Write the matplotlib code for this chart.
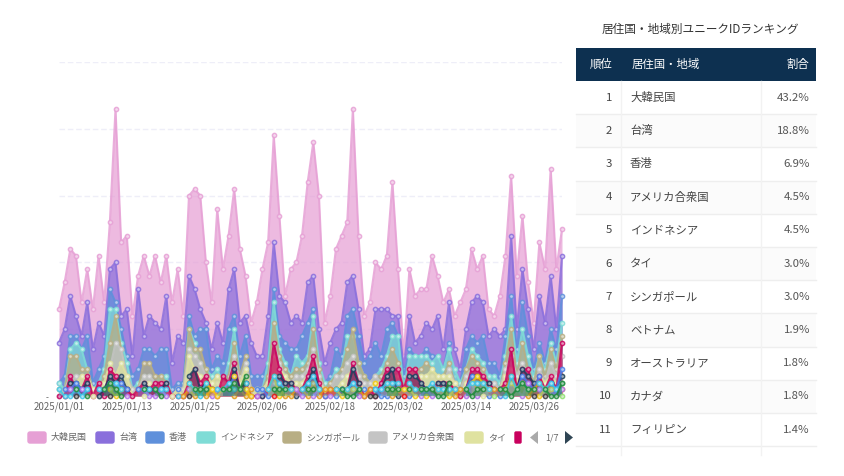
import numpy as np
import pandas as pd
import matplotlib
matplotlib.use("Agg")
import matplotlib.pyplot as plt
from matplotlib.colors import to_rgb
from matplotlib.patches import FancyBboxPatch, Rectangle, Polygon

plt.rcParams["font.family"] = ["Noto Sans CJK JP", "DejaVu Sans"]

_ = None
dates = pd.date_range("2025-01-01", periods=90).strftime("%Y/%m/%d")

korea = [13, 17, 22, 21, 14, 19, 13, 21, 14, 26, 43, 23, 24, 12, 18, 21, 18, 21, 17, 21, 14, 19, 12, 30, 31, 30, 20, 14, 28, 19,
         24, 31, 22, 18, 11, 14, 19, 23, 39, 27, 15, 19, 20, 24, 32, 38, 30, 11, 15, 22, 24, 26, 43, 24, 12, 14, 20, 19, 21, 32,
         19, 6, 19, 15, 16, 16, 21, 18, 14, 16, 12, 14, 16, 22, 19, 21, 13, 12, 15, 21, 33, 18, 27, 17, 11, 23, 19, 34, 19, 25]
taiwan = [8, 10, 15, 12, 9, 14, 7, 11, 9, 19, 20, 12, 13, 6, 16, 9, 12, 11, 10, 15, 5, 9, 8, 18, 16, 13, 11, 7, 11, 8,
          16, 19, 11, 12, 8, 6, 6, 12, 23, 15, 14, 11, 12, 11, 17, 18, 10, 5, 8, 10, 11, 17, 18, 13, 6, 7, 13, 13, 13, 12,
          12, 4, 12, 8, 9, 11, 10, 12, 7, 14, 7, 4, 10, 14, 15, 14, 9, 10, 9, 10, 24, 10, 19, 13, 7, 15, 11, 18, 10, 21]
hongkong = [2, 3, 9, 9, 7, 9, 2, 4, 6, 16, 14, 10, 6, 3, 4, 7, 7, 6, 7, 7, 1, 2, 2, 12, 9, 10, 10, 4, 6, 5,
            10, 12, 6, 9, 3, 3, 3, 5, 16, 9, 8, 7, 7, 9, 11, 13, 4, 2, 3, 7, 6, 12, 13, 9, 5, 6, 8, 6, 10, 11,
            9, 3, 7, 6, 6, 7, 6, 6, 4, 8, 3, 2, 7, 9, 8, 9, 5, 5, 3, 9, 15, 7, 14, 9, 4, 8, 5, 10, 7, 15]
indonesia = [2, 1, 7, 8, 7, 4, 1, 2, 4, 13, 13, 8, 5, 1, 2, 3, 3, 2, 3, 3, 0, 1, 1, 10, 8, 5, 4, 3, 4, 2,
             5, 10, 3, 5, 1, 1, 1, 5, 14, 7, 5, 3, 6, 5, 6, 12, 5, 2, 2, 4, 4, 9, 9, 5, 3, 2, 3, 4, 6, 9,
             9, 1, 6, 6, 6, 6, 5, 6, 4, 7, 4, 2, 4, 7, 6, 5, 3, 3, 2, 6, 12, 5, 10, 6, 3, 6, 4, 8, 5, 11]
singapore = [1, 1, 6, 6, 4, 4, 1, 1, 3, 8, 12, 7, 3, 1, 1, 5, 5, 3, 3, 2, 0, 1, 1, 10, 7, 7, 4, 2, 3, 2,
             3, 8, 3, 6, 1, 1, 1, 3, 11, 6, 4, 3, 4, 4, 5, 10, 4, 1, 2, 3, 4, 7, 10, 5, 3, 2, 3, 3, 5, 7,
             5, 1, 4, 4, 4, 5, 4, 3, 3, 5, 2, 1, 4, 6, 5, 4, 2, 2, 1, 5, 10, 3, 8, 4, 2, 6, 3, 7, 4, 9]
usa = [0, 1, 3, 3, 3, 3, 1, 0, 2, 4, 8, 7, 3, 1, 1, 3, 3, 2, 2, 2, 0, 1, 1, 7, 6, 5, 3, 2, 2, 2,
       2, 6, 2, 5, 1, 1, 1, 2, 8, 5, 3, 2, 3, 3, 4, 7, 3, 1, 1, 3, 3, 5, 6, 3, 2, 2, 3, 2, 4, 4,
       4, 1, 3, 3, 3, 3, 3, 2, 2, 4, 2, 1, 3, 4, 4, 3, 1, 2, 1, 4, 6, 3, 5, 3, 1, 4, 2, 5, 3, 6]
thailand = [1, 0, 2, 2, 3, 3, 1, 0, 2, 5, 3, 5, 3, 0, 1, 2, 2, 1, 2, 2, 0, 1, 0, 6, 4, 3, 3, 2, 3, 2,
            2, 4, 2, 4, 0, 1, 1, 2, 6, 4, 3, 2, 2, 2, 3, 5, 2, 1, 1, 1, 2, 3, 4, 2, 1, 1, 2, 2, 3, 3,
            3, 1, 4, 3, 3, 3, 4, 3, 3, 3, 2, 0, 2, 3, 3, 3, 1, 1, 1, 3, 4, 2, 4, 3, 1, 3, 2, 3, 2, 3]
crimson = [0, 0, 3, 1, 1, 3, 0, 2, 0, 4, 3, 2, 1, 0, 1, 2, 1, 2, 2, 2, 0, 0, 0, 2, 4, 2, 3, 1, 0, 3,
           2, 5, 1, 2, 0, 0, 0, 1, 8, 4, 2, 2, 1, 1, 3, 6, 2, 0, 1, 1, 1, 1, 5, 2, 0, 1, 0, 2, 4, 4,
           4, 1, 4, 4, 2, 1, 1, 2, 2, 2, 1, 0, 1, 4, 4, 3, 2, 1, 1, 2, 7, 1, 4, 4, 1, 3, 1, 3, 1, 8]
navy = [_, _, 2, 2, 1, 2, _, 0, 1, 3, 2, 3, 1, _, _, 2, 1, 1, 1, 2, _, _, _, 3, 4, 1, 2, 1, _, 1,
        1, 4, 1, 2, _, _, 0, _, 3, 3, 2, 2, 0, 1, 2, 4, 1, _, _, 1, 1, 1, 4, 2, _, _, 1, 1, 3, 4,
        0, _, 3, 3, 2, 1, _, 2, 2, 1, 1, _, 1, 3, 3, 2, 2, _, 1, 1, 3, 1, 4, 3, 2, 1, _, 2, 1, 3]
cyan = [1, 0, 0, 1, 0, 1, _, 1, _, 2, 2, 1, _, _, _, 1, 1, _, 1, 1, _, 0, _, 2, 1, 0, 2, _, 1, 1,
        2, 1, _, 2, _, _, _, 1, 3, 2, 1, 1, _, 1, 2, 3, 1, _, _, 1, 1, 1, 2, 1, _, _, 1, 1, 2, 2,
        2, _, 2, 1, 1, 1, 2, 1, 1, 1, 1, _, 1, 2, 2, 2, 1, _, _, 0, 3, 1, 2, 1, _, 2, 1, 2, 1, 2]
blue = [_, 1, 1, 2, 1, 1, _, _, 1, 2, 1, 2, 1, _, 1, 1, _, 1, 1, _, _, 1, _, 1, 1, 1, 1, 1, _, _,
        1, 3, _, 1, _, 1, 1, 0, 2, 1, _, 1, 1, 1, 1, 2, _, 0, _, 0, _, 1, 2, _, 1, _, 1, 0, 0, 1,
        1, 1, 0, _, 1, 1, 1, 1, 1, 1, _, 1, 1, 3, 2, 2, 0, 1, 0, 1, 2, 1, 3, 2, 1, 3, _, 2, 1, 4]
violet = [_, _, 1, _, 1, _, _, 1, _, 1, 2, _, 0, _, _, 1, 0, 0, 1, 0, _, _, _, 1, _, 1, _, 0, 1, 1,
          1, 2, 1, 1, _, 0, _, 1, 2, _, 1, _, 1, 0, _, 0, 1, _, 0, _, 1, _, 1, 0, _, _, _, 1, 1, 1,
          _, 1, 1, _, 0, 1, 0, _, 1, _, 1, _, 0, 2, 0, 1, 1, _, 1, 1, 2, 1, 0, 2, _, 1, 1, 1, 1, 1]
pale_mark = [_, _, _, _, _, _, 0, _, _, _, _, _, _, _, _, 0, _, _, _, _, 0, _, _, _, _, _, _, _, _, _,
             _, _, _, _, _, _, _, _, _, _, _, _, _, _, _, _, _, _, _, _, _, _, _, _, _, _, _, _, _, _,
             _, _, _, _, _, _, _, _, _, _, _, _, _, _, _, 0, _, _, _, _, _, _, _, _, _, _, _, _, _, _]
orange = [_, _, _, _, _, _, _, _, _, 1, 1, _, _, _, _, _, _, _, _, _, _, _, 0, 1, 0, 1, 0, 1, 1, 1,
          _, 0, 1, 0, 1, _, _, 1, 2, 1, 0, 0, 1, 1, 0, 2, 0, 1, 1, 1, _, 1, 1, 1, 0, 1, _, 1, 1, 0,
          1, _, 1, 1, 1, _, 1, 1, 1, 1, 0, 1, 1, 2, 1, 1, 1, 1, 1, 1, 3, 1, 2, 0, 1, 2, 1, 1, _, 1]
green = [_, _, _, 1, _, 0, _, _, 1, 2, 1, 0, _, _, _, 1, _, 1, 0, _, _, _, _, _, 1, 1, 1, _, _, 1,
         1, 2, 1, 3, _, _, _, _, 1, 1, 1, _, _, _, 1, 1, _, _, _, _, 1, 0, 0, 1, _, _, _, _, 1, 1,
         1, _, 1, _, 1, 1, 1, 0, 0, 2, _, _, 1, 0, 1, 1, _, _, 1, 1, 0, 1, 2, 1, 1, _, 1, 0, 0, 2]
yellow = [_, _, _, _, _, _, _, _, _, 1, 0, 1, _, _, _, _, _, _, _, _, _, _, _, 2, 1, _, 2, 1, 0, 1,
          _, 3, _, 1, 0, _, _, 1, 3, 0, 1, 1, _, _, 1, _, 1, _, _, 1, 0, 1, 1, _, _, _, 2, _, 2, 1,
          1, 1, 1, 0, _, 0, _, 1, 1, 0, 1, _, _, 2, 3, 2, 1, _, _, 1, 2, 1, 2, 1, _, 0, 1, 1, _, 2]
lime = [_, _, _, _, _, _, _, _, _, _, _, _, _, _, _, _, _, _, _, _, _, _, _, _, _, _, _, _, _, _,
        _, _, _, _, _, _, _, _, _, _, _, _, _, _, _, _, _, _, _, _, _, _, _, _, _, _, _, _, _, _,
        _, _, _, _, _, _, _, _, _, _, _, _, _, _, _, _, _, 0, _, _, _, _, _, _, _, _, _, _, _, 0]
darkgrey = [_, _, _, 0, _, _, _, _, _, 0, _, _, _, _, _, _, _, _, _, _, _, _, _, 0, _, _, _, _, _, _,
            _, _, _, _, _, _, _, _, _, _, _, _, _, _, _, _, _, _, _, _, _, _, _, _, _, 0, 0, _, _, _,
            _, _, _, _, _, _, _, _, _, _, _, _, _, _, _, _, _, _, _, _, _, _, _, _, 0, _, 0, _, _, _]
red = [_, _, _, _, _, _, _, _, _, _, _, _, _, _, _, _, _, _, _, _, _, _, _, _, _, _, _, _, _, _,
       _, _, _, _, _, _, _, _, 0, _, _, _, _, _, _, _, _, _, _, _, _, _, _, _, _, _, _, _, _, _,
       _, 0, _, _, _, _, _, _, _, _, _, _, _, _, _, _, _, _, _, _, _, _, _, _, _, _, _, _, _, _]

main_series = [
    (korea, "#e6a0d5"), (taiwan, "#8a6fdc"), (hongkong, "#5f90db"), (indonesia, "#7fdcd6"),
    (singapore, "#b8ae84"), (usa, "#c4c4c4"), (thailand, "#dfe2a0"), (crimson, "#c9005d"),
]
small_series = [
    (navy, "#1f3f5f"), (blue, "#4a80e8"), (orange, "#e09a1c"), (violet, "#b070e8"),
    (yellow, "#f2c811"), (cyan, "#3cc4e8"), (green, "#1f8a3a"),
    (pale_mark, "#dfe2a0"), (lime, "#90e070"), (darkgrey, "#3a3a3a"), (red, "#e81010"),
]

legend_names = ["大韓民国", "台湾", "香港", "インドネシア", "シンガポール", "アメリカ合衆国", "タイ"]
legend_colors = ["#e6a0d5", "#8a6fdc", "#5f90db", "#7fdcd6", "#b8ae84", "#c4c4c4", "#dfe2a0"]
legend_swatch_x = [27, 95, 145, 196, 282, 368, 464]

ranks = list(range(1, 12))
countries = ["大韓民国", "台湾", "香港", "アメリカ合衆国", "インドネシア", "タイ", "シンガポール",
             "ベトナム", "オーストラリア", "カナダ", "フィリピン"]
shares = ["43.2%", "18.8%", "6.9%", "4.5%", "4.5%", "3.0%", "3.0%", "1.9%", "1.8%", "1.8%", "1.4%"]

W, H = 844, 476
fig = plt.figure(figsize=(W / 100, H / 100), dpi=100)

# overlay in pixel coordinates for the table and the legend
page = fig.add_axes([0, 0, 1, 1], zorder=5)
page.set_xlim(0, W)
page.set_ylim(H, 0)
page.axis("off")
page.patch.set_alpha(0)

ax = fig.add_axes([59 / W, 1 - 396 / H, (562 - 59) / W, (396 - 62) / H])
x = np.arange(90)


def draw_series(vals, col, fill_alpha):
    y = np.array(vals, dtype=float)
    rgb = np.array(to_rgb(col))
    ax.fill_between(x, 0, y, color=col, alpha=fill_alpha, lw=0, zorder=2)
    ax.plot(x, y, color=col, lw=1.5, alpha=0.85, zorder=2,
            marker="o", ms=3.0, mew=1.1, mec=col, mfc=tuple(rgb * 0.35 + 0.65),
            clip_on=False)


for vals, col in main_series:
    draw_series(vals, col, 0.72)
for vals, col in small_series:
    draw_series(vals, col, 0.35)

ax.set_xlim(0, 89)
ax.set_ylim(0, 50)
ax.set_yticks([10, 20, 30, 40, 50])
ax.set_yticklabels([])
ax.grid(axis="y", color="#eeeef8", lw=1, ls=(0, (4, 2)), zorder=0)
ax.tick_params(axis="both", length=0)
ax.set_xticks(x[::12])
ax.set_xticklabels(dates[::12], fontsize=7.0, color="#666666")
ax.tick_params(axis="x", pad=4)
for s in ax.spines.values():
    s.set_visible(False)
ax.patch.set_alpha(0)
page.text(47, 398, "-", fontsize=6, color="#666666", ha="center", va="center")

# legend
for nm, col, sx in zip(legend_names, legend_colors, legend_swatch_x):
    page.add_patch(FancyBboxPatch((sx + 1, 432), 18, 11, boxstyle="round,pad=0,rounding_size=2",
                                  fc=col, ec=col, lw=1))
    page.text(sx + 24, 437.5, nm, fontsize=6.5, color="#666666", va="center")
page.add_patch(FancyBboxPatch((515, 432), 6, 11, boxstyle="round,pad=0,rounding_size=1",
                              fc="#c9005d", ec="#c9005d", lw=1))
page.add_patch(Polygon([[538, 431], [538, 444], [530, 437.5]], fc="#aaaaaa", ec="none"))
page.text(551.5, 437.5, "1/7", fontsize=6.5, color="#666666", ha="center", va="center")
page.add_patch(Polygon([[565, 431], [565, 444], [573, 437.5]], fc="#2f4554", ec="none"))

# table
page.text(700, 29, "居住国・地域別ユニークIDランキング", fontsize=8.4, color="#333333", ha="center", va="center")
left, c1, c2, right = 576, 621, 761, 816
page.add_patch(Rectangle((left, 48), right - left, 33, fc="#0d3050", ec="none"))
page.text(612, 64.5, "順位", fontsize=8.2, color="#ffffff", ha="right", va="center")
page.text(632, 64.5, "居住国・地域", fontsize=8.2, color="#ffffff", va="center")
page.text(809, 64.5, "割合", fontsize=8.2, color="#ffffff", ha="right", va="center")
row_h = 33.2
for i, (r, nm, sh) in enumerate(zip(ranks, countries, shares)):
    top = 81 + i * row_h
    if i % 2 == 1:
        page.add_patch(Rectangle((left, top), right - left, row_h, fc="#fbfbfb", ec="none"))
    page.plot([left, right], [top + row_h, top + row_h], color="#eeeeee", lw=1)
    yc = top + row_h / 2
    page.text(612, yc, str(r), fontsize=8.2, color="#444444", ha="right", va="center")
    page.text(630, yc, nm, fontsize=8.2, color="#444444", va="center")
    page.text(810, yc, sh, fontsize=8.2, color="#555555", ha="right", va="center")
page.plot([c1, c1], [81, 455], color="#f2f2f2", lw=1)
page.plot([c2, c2], [81, 455], color="#f2f2f2", lw=1)

fig.savefig("out.png", dpi=100)
